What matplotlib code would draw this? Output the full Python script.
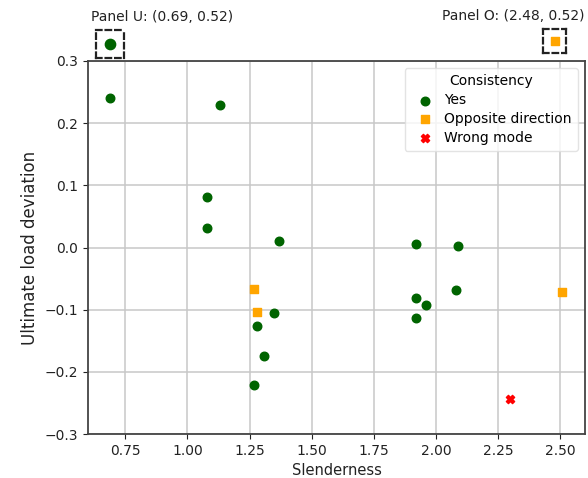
import matplotlib
matplotlib.use("Agg")
import matplotlib.pyplot as plt

# data
yes_x = [0.69, 1.13, 1.078, 1.078, 1.368, 1.349, 1.279, 1.309, 1.268,
         1.92, 2.089, 2.08, 1.92, 1.96, 1.92]
yes_y = [0.241, 0.23, 0.081, 0.032, 0.010, -0.105, -0.127, -0.174, -0.221,
         0.006, 0.003, -0.069, -0.081, -0.093, -0.114]

opp_x = [1.268, 1.279, 2.509]
opp_y = [-0.066, -0.104, -0.071]

wrong_x = [2.30]
wrong_y = [-0.243]

# outliers shown in small panels above the plot
panel_u = (0.69, 0.52)
panel_o = (2.48, 0.52)

x_ticks = [0.75, 1.00, 1.25, 1.50, 1.75, 2.00, 2.25, 2.50]
y_ticks = [-0.3, -0.2, -0.1, 0.0, 0.1, 0.2, 0.3]

W, H = 588, 478
fig = plt.figure(figsize=(W / 100, H / 100), dpi=100)
ax = fig.add_axes([88 / W, (H - 434) / H, (585 - 88) / W, (434 - 61) / H])

ax.scatter(yes_x, yes_y, color="darkgreen", marker="o", s=38, label="Yes", zorder=3)
ax.scatter(opp_x, opp_y, color="orange", marker="s", s=35, label="Opposite direction", zorder=3)
ax.scatter(wrong_x, wrong_y, color="red", marker="X", s=35, label="Wrong mode", zorder=3)

ax.set_xlim(0.6, 2.6)
ax.set_ylim(-0.3, 0.3)
ax.set_xticks(x_ticks)
ax.set_xticklabels([f"{t:.2f}" for t in x_ticks])
ax.set_yticks(y_ticks)
ax.set_yticklabels([f"{t:.1f}".replace("-", "\u2212") for t in y_ticks])
ax.tick_params(labelsize=10, colors="#222222")
ax.grid(True, color="#c8c8c8", linewidth=1.1)
ax.set_axisbelow(True)
for sp in ax.spines.values():
    sp.set_color("#444444")
    sp.set_linewidth(1.3)

ax.set_xlabel("Slenderness", fontsize=10.5, color="#222222")
ax.set_ylabel("Ultimate load deviation", fontsize=12, color="#222222")

leg = ax.legend(title="Consistency", loc="upper right", fontsize=10,
                title_fontsize=10, frameon=True, borderpad=0.45,
                labelspacing=0.35, handletextpad=0.4, borderaxespad=0,
                bbox_to_anchor=(0.986, 0.981))
leg.get_frame().set_edgecolor("#dddddd")

# small outlier panels
def outlier_panel(rect, pt, color, marker, size):
    pax = fig.add_axes(rect)
    pax.scatter([pt[0]], [pt[1]], color=color, marker=marker, s=size)
    pax.set_xlim(pt[0] - 0.1, pt[0] + 0.1)
    pax.set_ylim(pt[1] - 0.1, pt[1] + 0.1)
    pax.set_xticks([])
    pax.set_yticks([])
    for sp in pax.spines.values():
        sp.set_linestyle((0, (2.5, 1.8)))
        sp.set_linewidth(1.6)
        sp.set_color("#222222")
    return pax

outlier_panel([96 / W, (H - 58) / H, 28 / W, 28 / H], panel_u, "darkgreen", "o", 55)
outlier_panel([543 / W, (H - 53) / H, 23 / W, 24 / H], panel_o, "orange", "s", 40)

fig.text(162 / W, 1 - 17 / H, f"Panel U: ({panel_u[0]:.2f}, {panel_u[1]:.2f})",
         ha="center", va="center", fontsize=10, color="#222222")
fig.text(584 / W, 1 - 16 / H, f"Panel O: ({panel_o[0]:.2f}, {panel_o[1]:.2f})",
         ha="right", va="center", fontsize=10, color="#222222")

fig.savefig("out.png", dpi=100)
